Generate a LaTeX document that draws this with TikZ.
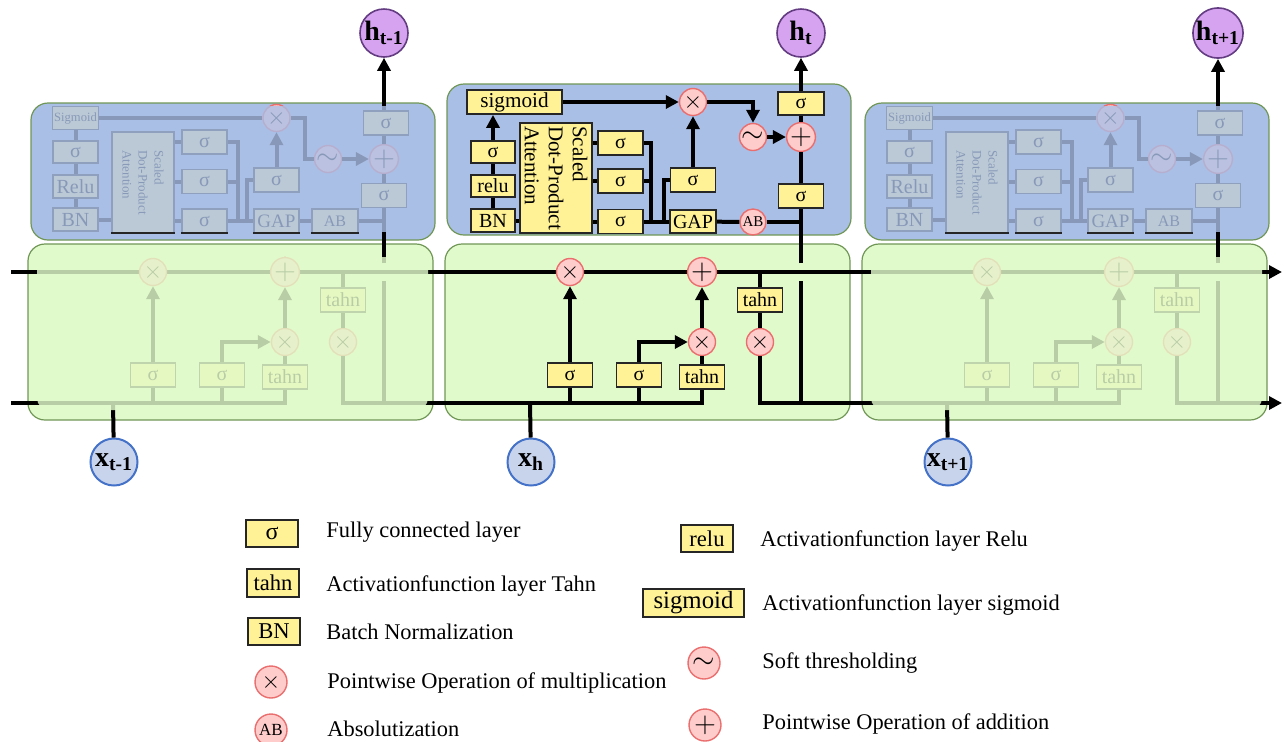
\documentclass[tikz,border=0pt]{standalone}
\usepackage{fontspec}
\setmainfont{Liberation Serif}
\usetikzlibrary{arrows.meta}
\definecolor{cellblue}{RGB}{170,191,230}
\definecolor{cellgreen}{RGB}{225,250,203}
\definecolor{cellrim}{RGB}{112,150,86}
\definecolor{boxyellow}{RGB}{255,242,150}
\definecolor{oppink}{RGB}{255,204,204}
\definecolor{oprim}{RGB}{234,110,110}
\definecolor{hpurple}{RGB}{213,163,240}
\definecolor{hrim}{RGB}{100,60,130}
\definecolor{xblue}{RGB}{200,211,236}
\definecolor{xrim}{RGB}{68,114,200}
\tikzset{
  cellA/.style ={rounded corners=8.5pt, draw=cellrim, fill=cellblue, line width=0.6pt},
  cellB/.style ={rounded corners=8.5pt, draw=cellrim, fill=cellgreen, line width=0.6pt},
  lbox/.style  ={rectangle, draw=black!85, fill=boxyellow, line width=0.9pt, inner sep=0pt,
                 minimum width=22.5pt, minimum height=12pt, font=\fontsize{10}{12}\selectfont},
  opnode/.style={circle, draw=oprim, fill=oppink, line width=0.7pt, inner sep=0pt,
                 minimum size=13.5pt, font=\fontsize{12}{12}\selectfont},
  hnode/.style ={circle, draw=hrim, fill=hpurple, line width=0.8pt, inner sep=0pt,
                 minimum size=24pt, font=\fontsize{14}{14}\selectfont\bfseries},
  xnode/.style ={circle, draw=xrim, fill=xblue, line width=1pt, inner sep=0pt,
                 minimum size=23.5pt, font=\fontsize{14}{14}\selectfont\bfseries},
  wire/.style  ={line width=2pt, black},
  wirear/.style={wire, -{Triangle[length=6.5pt,width=6.5pt]}},
  fadeA/.style ={fill=cellblue, fill opacity=0.8},
  fadeB/.style ={fill=cellgreen, fill opacity=0.82, rounded corners=6pt},
  lgtext/.style={anchor=base west, inner sep=0pt, font=\fontsize{11.2}{13}\selectfont},
}

\begin{document}
\begin{tikzpicture}[x=0.5pt, y=-0.5pt]
  \useasboundingbox (0,0) rectangle (1286,741);
  % cell frames
  \draw[cellA] (31,103) rectangle (435,240);
  \draw[cellA] (865,103) rectangle (1269,240);
  \draw[cellA] (447,84) rectangle (851,235);
  \foreach \d in {-417,0,417}
    \draw[cellB] (\d+445,244) rectangle (\d+850,420);
  % cell state line
  \coordinate (topin) at (11,272);
  \coordinate (topout) at (1282,272);
  \coordinate (lowout) at (1282,403);
  \draw[wirear] (topin) -- (topout);
  % lstm part of each cell
  \foreach \c/\d/\hs/\xs in {L/-417/t-1/t-1, M/0/t/h, R/417/t+1/t+1} {
    \coordinate (\c-in) at (\d+428,403);
    \coordinate (\c-xj) at (\d+530,403);
    \coordinate (\c-cs) at (\d+760,272);
    \coordinate (\c-oj) at (\d+801,403);
    \coordinate (\c-ex) at (\d+850,403);
    \coordinate (\c-gap1) at (\d+801,281);
    \coordinate (\c-gap2) at (\d+801,263);
    \node[opnode] (\c-mf) at (\d+570,272) {$\times$};
    \node[opnode, font=\fontsize{14}{14}\selectfont] (\c-add) at (\d+702,272) {$+$};
    \node[lbox] (\c-ff) at (\d+570,375) {σ};
    \node[lbox] (\c-fi) at (\d+639,375) {σ};
    \node[lbox] (\c-tc) at (\d+702,377) {tahn};
    \node[opnode] (\c-mi) at (\d+702,342) {$\times$};
    \node[lbox] (\c-to) at (\d+760,300) {tahn};
    \node[opnode] (\c-mo) at (\d+760,342) {$\times$};
    \node[hnode] (\c-h) at (\d+801,33) {h\textsubscript{\hs}};
    \node[xnode] (\c-x) at (\d+531,462) {x\textsubscript{\xs}};
    \draw[wire] (\c-in) -| (\c-tc.south);
    \draw[wire] (\c-ff) -- (\c-ff |- \c-in);
    \draw[wire] (\c-fi) -- (\c-fi |- \c-in);
    \draw[wirear] (\c-ff) -- (\c-mf);
    \draw[wirear] (\c-fi.north) |- (\c-mi.west);
    \draw[wire] (\c-tc) -- (\c-mi);
    \draw[wirear] (\c-mi) -- (\c-add);
    \draw[wire] (\c-cs) -- (\c-to);
    \draw[wire] (\c-to) -- (\c-mo);
    \draw[wire] (\c-mo) |- (\c-ex);
    \draw[wire] (\c-oj) -- (\c-gap1);
    \draw[wire] (\c-x) -- (\c-xj);
  }
  \draw[wirear] (R-ex) -- (lowout);
  % attention part, middle cell
  \node[lbox, minimum width=47.5pt, font=\fontsize{10.6}{12}\selectfont] (M-sg) at (514.5,102) {sigmoid};
  \node[lbox, minimum width=22pt, minimum height=11pt] (M-fc0) at (493,152) {σ};
  \node[lbox, minimum width=22pt, minimum height=11pt] (M-relu) at (493,186) {relu};
  \node[lbox, minimum width=22pt, minimum height=11.5pt] (M-bn) at (493,220.5) {BN};
  \node[lbox, minimum width=36pt, minimum height=55pt] (M-att) at (556,178) {};
  \node[rotate=-90, align=left, font=\fontsize{10.5}{12}\selectfont] (M-attl) at (M-att.center)
    {Scaled\\Dot-Product\\Attention};
  \node[lbox] (M-q) at (620.5,143) {σ};
  \node[lbox] (M-k) at (620.5,181) {σ};
  \node[lbox] (M-v) at (620.5,221.5) {σ};
  \node[lbox] (M-fcg) at (693,180) {σ};
  \node[lbox, minimum width=23pt, minimum height=11.5pt] (M-pool) at (693,221.5) {GAP};
  \node[opnode] (M-mt) at (693,102) {$\times$};
  \node[opnode, font=\fontsize{14}{14}\selectfont] (M-soft) at (753,137) {$\sim$};
  \node[opnode, font=\fontsize{14}{14}\selectfont] (M-res) at (801,137) {$+$};
  \node[lbox, minimum width=23pt, minimum height=11.5pt] (M-fct) at (801,103.5) {σ};
  \node[lbox] (M-fcb) at (801,196) {σ};
  \node[opnode, minimum size=13pt, font=\fontsize{7.5}{8}\selectfont] (M-ab) at (753,222) {AB};
  \coordinate (M-j1) at (651,221.5);
  \coordinate (M-j2) at (664,221.5);
  \draw[wirear] (M-sg) -- (M-mt);
  \draw[wirear] (M-fc0.north) -- (M-fc0.north |- M-sg.south);
  \draw[wire] (M-bn) -- (M-relu);
  \draw[wire] (M-relu) -- (M-fc0);
  \draw[wire] (M-bn.east) -- (M-bn.east -| M-att.west);
  \foreach \n in {q,k,v}
    \draw[wire] (M-\n.west -| M-att.east) -- (M-\n);
  \draw[wire] (M-q.east) -| (M-j1);
  \draw[wire] (M-k.east) -| (M-j1);
  \draw[wire] (M-v) -- (M-pool);
  \draw[wire] (M-j2) |- (M-fcg.west);
  \draw[wirear] (M-fcg) -- (M-mt);
  \draw[wirear] (M-mt.east) -| (M-soft.north);
  \draw[wirear] (M-soft) -- (M-res);
  \draw[wire] (M-pool) -- (M-ab);
  \draw[wire] (M-ab.east) -- (M-ab -| M-res);
  \draw[wire] (M-gap2) -- (M-fcb);
  \draw[wire] (M-fcb) -- (M-res);
  \draw[wire] (M-res) -- (M-fct);
  \draw[wirear] (M-fct) -- (M-h);
  % attention part, side cells
  \foreach \c/\d in {L/0, R/834} {
    \node[lbox, minimum width=23pt, minimum height=11.5pt, font=\fontsize{6.3}{7}\selectfont] (\c-sg) at (\d+75.5,118) {Sigmoid};
    \node[lbox, minimum height=11pt] (\c-fc0) at (\d+75.5,152) {σ};
    \node[lbox, minimum height=11.5pt] (\c-relu) at (\d+75.5,186.5) {Relu};
    \node[lbox, minimum height=11.5pt] (\c-bn) at (\d+75.5,219.5) {BN};
    \node[lbox, minimum width=31pt, minimum height=50.5pt] (\c-att) at (\d+143,182.5) {};
    \node[rotate=-90, align=left, font=\fontsize{6.5}{8}\selectfont] (\c-attl) at (\c-att.center)
      {Scaled\\Dot-Product\\Attention};
    \node[lbox] (\c-q) at (\d+204.5,142) {σ};
    \node[lbox] (\c-k) at (\d+204.5,181.5) {σ};
    \node[lbox] (\c-v) at (\d+204.5,221) {σ};
    \node[lbox] (\c-fcg) at (\d+276.5,180) {σ};
    \node[lbox, font=\fontsize{9.5}{10}\selectfont] (\c-pool) at (\d+276.5,221) {GAP};
    \node[lbox, minimum width=23pt, font=\fontsize{8}{9}\selectfont] (\c-ab) at (\d+335,221) {AB};
    \node[opnode] (\c-mt) at (\d+276.5,118) {$\times$};
    \node[opnode, font=\fontsize{14}{14}\selectfont] (\c-soft) at (\d+328,159) {$\sim$};
    \node[opnode, font=\fontsize{14}{14}\selectfont] (\c-res) at (\d+384,159) {$+$};
    \node[lbox] (\c-fct) at (\d+386,123) {σ};
    \node[lbox] (\c-fcb) at (\d+384,195.5) {σ};
    \coordinate (\c-j1) at (\d+238,221);
    \coordinate (\c-j2) at (\d+247,221);
    \coordinate (\c-kn) at (\d+305,159);
    \draw[wire] (\c-sg) -- (\c-mt);
    \draw[wire] (\c-sg) -- (\c-fc0);
    \draw[wire] (\c-fc0) -- (\c-relu);
    \draw[wire] (\c-relu) -- (\c-bn);
    \draw[wire] (\c-bn.east) -- (\c-bn.east -| \c-att.west);
    \foreach \n in {q,k,v}
      \draw[wire] (\c-\n.west -| \c-att.east) -- (\c-\n);
    \draw[wire] (\c-q.east) -| (\c-j1);
    \draw[wire] (\c-k.east) -| (\c-j1);
    \draw[wire] (\c-v) -- (\c-pool);
    \draw[wire] (\c-j2) |- (\c-fcg.west);
    \draw[wirear] (\c-fcg) -- (\c-mt);
    \draw[wire] (\c-mt.east) -| (\c-kn) -- (\c-soft.west);
    \draw[wirear] (\c-soft) -- (\c-res);
    \draw[wire] (\c-pool) -- (\c-ab);
    \draw[wire] (\c-ab.east) -- (\c-ab -| \c-res);
    \draw[wire] (\c-gap2) -- (\c-fcb);
    \draw[wire] (\c-fcb) -- (\c-res);
    \draw[wire] (\c-res) -- (\c-res |- \c-fct.south);
    \draw[wirear] (\c-res |- \c-fct.north) -- (\c-h);
  }
  % fade the neighbouring cells
  \fill[fadeA] (48,106) rectangle (415,232);
  \fill[fadeA] (882,106) rectangle (1249,232);
  \fill[fadeB] (37,257) rectangle (428,410);
  \fill[fadeB] (871,257) rectangle (1262,410);
  % legend
  \node[lbox, minimum width=26pt, minimum height=13.5pt, font=\fontsize{12}{12}\selectfont] (k-fc) at (272,533.5) {σ};
  \node[lbox, minimum width=26pt, minimum height=14pt, font=\fontsize{11.3}{12}\selectfont] (k-tahn) at (273,583) {tahn};
  \node[lbox, minimum width=26pt, minimum height=13.5pt, font=\fontsize{11.3}{12}\selectfont] (k-bn) at (274,631.5) {BN};
  \node[opnode, minimum size=16pt] (k-mul) at (271,682) {$\times$};
  \node[opnode, minimum size=16pt, font=\fontsize{8.5}{9}\selectfont] (k-ab) at (271,730) {AB};
  \node[lbox, minimum width=26pt, minimum height=13.5pt, font=\fontsize{11.3}{12}\selectfont] (k-relu) at (707,538.5) {relu};
  \node[lbox, minimum width=50.5pt, minimum height=14pt, font=\fontsize{12.4}{13}\selectfont] (k-sg) at (693.5,603) {sigmoid};
  \node[opnode, minimum size=16pt, font=\fontsize{14}{14}\selectfont] (k-soft) at (704,663) {$\sim$};
  \node[opnode, minimum size=16pt, font=\fontsize{14}{14}\selectfont] (k-add) at (705,725) {$+$};
  \node[lgtext] (t-fc) at (326,537) {Fully connected layer};
  \node[lgtext] (t-tahn) at (326,591) {Activationfunction layer Tahn};
  \node[lgtext] (t-bn) at (326,639) {Batch Normalization};
  \node[lgtext] (t-mul) at (327,688) {Pointwise Operation of multiplication};
  \node[lgtext] (t-ab) at (327,736) {Absolutization};
  \node[lgtext] (t-relu) at (760,546) {Activationfunction layer Relu};
  \node[lgtext] (t-sg) at (762,610) {Activationfunction layer sigmoid};
  \node[lgtext] (t-soft) at (762,668) {Soft thresholding};
  \node[lgtext] (t-add) at (762,729) {Pointwise Operation of addition};
\end{tikzpicture}
\end{document}
